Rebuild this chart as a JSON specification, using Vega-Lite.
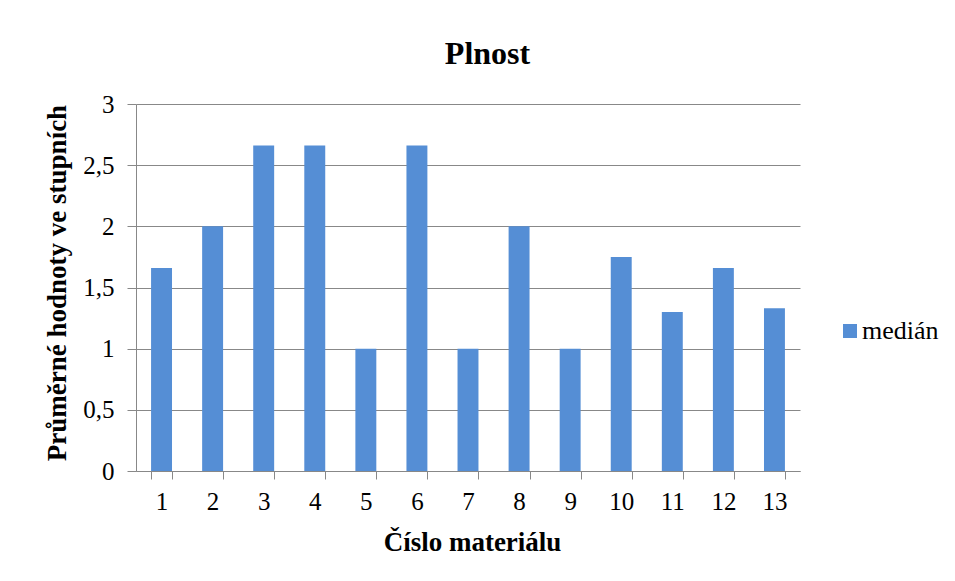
{
  "$schema": "https://vega.github.io/schema/vega-lite/v6.json",
  "width": 664,
  "height": 367,
  "autosize": {"type": "none"},
  "padding": {"left": 136, "top": 104, "right": 155, "bottom": 110},
  "background": "white",
  "title": {
    "text": "Plnost",
    "font": "Liberation Serif",
    "fontSize": 32,
    "fontWeight": "bold",
    "color": "black",
    "anchor": "middle",
    "baseline": "alphabetic",
    "offset": -4,
    "dx": 19.5
  },
  "data": {
    "values": [
      {"material": "1", "value": 1.66, "series": "medián"},
      {"material": "2", "value": 2.0, "series": "medián"},
      {"material": "3", "value": 2.66, "series": "medián"},
      {"material": "4", "value": 2.66, "series": "medián"},
      {"material": "5", "value": 1.0, "series": "medián"},
      {"material": "6", "value": 2.66, "series": "medián"},
      {"material": "7", "value": 1.0, "series": "medián"},
      {"material": "8", "value": 2.0, "series": "medián"},
      {"material": "9", "value": 1.0, "series": "medián"},
      {"material": "10", "value": 1.75, "series": "medián"},
      {"material": "11", "value": 1.3, "series": "medián"},
      {"material": "12", "value": 1.66, "series": "medián"},
      {"material": "13", "value": 1.33, "series": "medián"}
    ]
  },
  "mark": {"type": "bar"},
  "encoding": {
    "x": {
      "field": "material",
      "type": "ordinal",
      "sort": null,
      "scale": {"paddingInner": 0.59, "paddingOuter": 0.295},
      "axis": {
        "title": "Číslo materiálu",
        "titleFont": "Liberation Serif",
        "titleFontSize": 27,
        "titleFontWeight": "bold",
        "titleColor": "black",
        "titleX": 336,
        "titleY": 79,
        "titleAlign": "center",
        "titleBaseline": "alphabetic",
        "labelAngle": 0,
        "labelFont": "Liberation Serif",
        "labelFontSize": 25,
        "labelColor": "black",
        "labelPadding": 10,
        "tickSize": 8,
        "tickBand": "extent",
        "tickColor": "#888888",
        "domainColor": "#888888",
        "grid": false
      }
    },
    "y": {
      "field": "value",
      "type": "quantitative",
      "scale": {"domain": [0, 3], "nice": false},
      "axis": {
        "title": "Průměrné hodnoty ve stupních",
        "titleFont": "Liberation Serif",
        "titleFontSize": 27,
        "titleFontWeight": "bold",
        "titleColor": "black",
        "titleX": -71,
        "titleY": 178.5,
        "titleAngle": 270,
        "titleAlign": "center",
        "titleBaseline": "alphabetic",
        "values": [0, 0.5, 1, 1.5, 2, 2.5, 3],
        "labelExpr": "replace(toString(datum.value), '.', ',')",
        "labelFont": "Liberation Serif",
        "labelFontSize": 25,
        "labelColor": "black",
        "labelPadding": 13,
        "tickSize": 9,
        "tickColor": "#888888",
        "domainColor": "#888888",
        "grid": true,
        "gridColor": "#888888",
        "gridWidth": 1
      }
    },
    "color": {
      "field": "series",
      "type": "nominal",
      "scale": {"range": ["#558ed5"]},
      "legend": {
        "title": null,
        "orient": "none",
        "legendX": 701,
        "legendY": 214,
        "symbolType": "square",
        "symbolSize": 196,
        "symbolStrokeWidth": 0,
        "labelFont": "Liberation Serif",
        "labelFontSize": 26,
        "labelColor": "black",
        "labelOffset": -1,
        "padding": 0
      }
    }
  },
  "config": {
    "view": {"stroke": null}
  }
}
